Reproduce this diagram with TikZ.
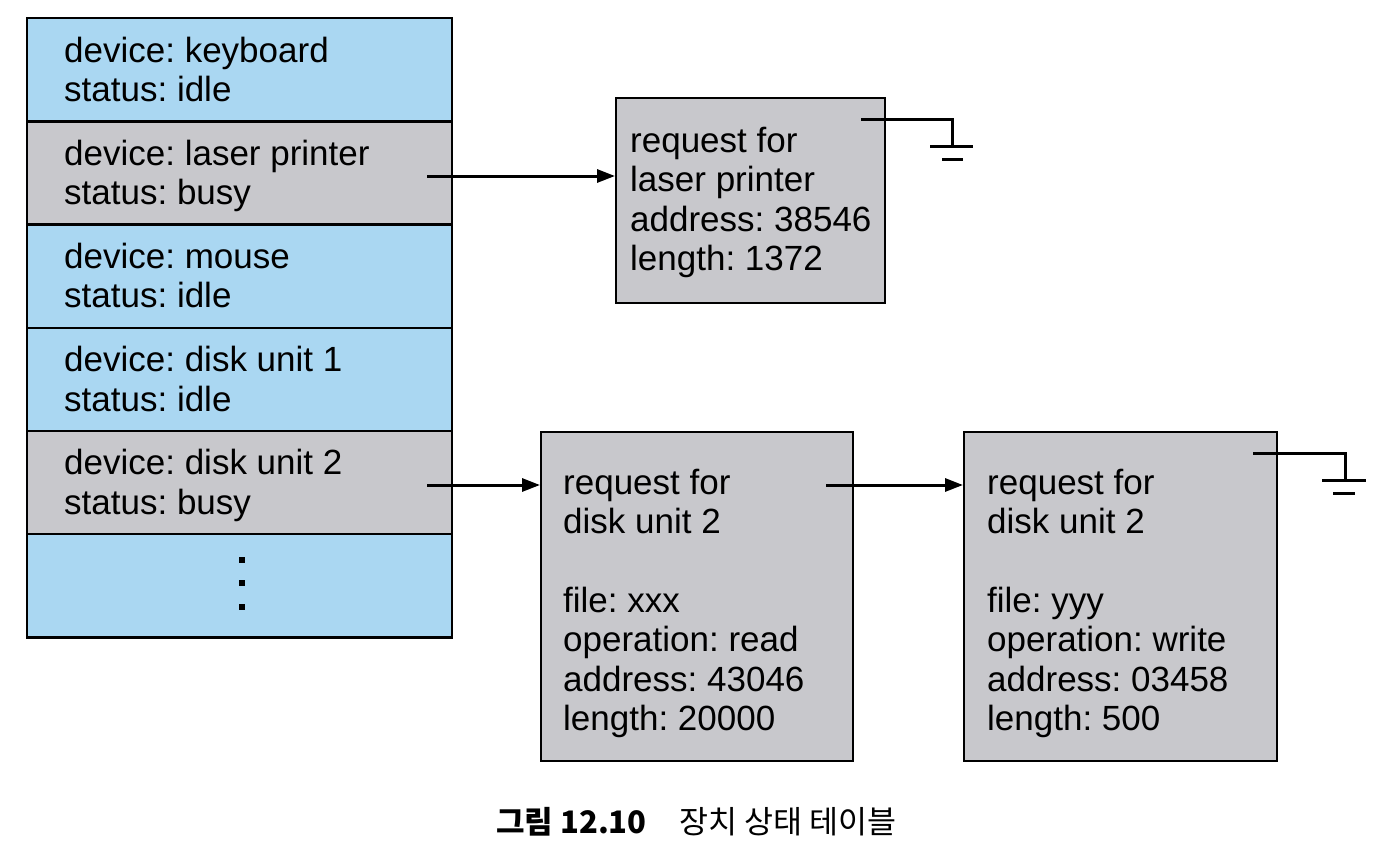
\documentclass[tikz,border=0pt]{standalone}
\usepackage{fontspec}
\setmainfont{Liberation Sans}
\newfontfamily\cjk{Noto Sans CJK KR}
\usetikzlibrary{arrows.meta}
\definecolor{rowblue}{RGB}{170,215,242}
\definecolor{rowgray}{RGB}{200,200,204}
\frenchspacing
\begin{document}
\begin{tikzpicture}[x=1pt,y=-1pt,
  row/.style={draw=black,line width=2.4pt,minimum width=425pt,minimum height=103.2pt,inner sep=0pt,anchor=north west},
  req/.style={draw=black,line width=2.4pt,fill=rowgray,inner sep=0pt,anchor=north west},
  txt/.style={anchor=base west,inner sep=0pt,align=left,font=\fontsize{35}{39.5}\selectfont},
  conn/.style={line width=3pt,-{Triangle[length=18pt,width=13pt]}},
  gnd/.style={line width=3pt},
  dotsq/.style={fill=black,minimum size=6.5pt,inner sep=0pt},
  captxt/.style={anchor=base west,inner sep=0pt}]
\useasboundingbox[fill=white] (0,0) rectangle (1388,846);

% device table
\node[row,fill=rowblue] (r1) at (26,17) {};
\node[row,fill=rowgray] (r2) at (26,120.2) {};
\node[row,fill=rowblue] (r3) at (26,223.4) {};
\node[row,fill=rowblue] (r4) at (26,326.6) {};
\node[row,fill=rowgray] (r5) at (26,429.8) {};
\node[row,fill=rowblue] (r6) at (26,533) {};

% (base anchor = baseline of the last line)
\node[txt] (t1) at (64,101.5) {device: keyboard\\status: idle};
\node[txt] (t2) at (64,204.7) {device: laser printer\\status: busy};
\node[txt] (t3) at (64,307.9) {device: mouse\\status: idle};
\node[txt] (t4) at (64,411.1) {device: disk unit 1\\status: idle};
\node[txt] (t5) at (64,514.3) {device: disk unit 2\\status: busy};

\node[dotsq] (d1) at (242,560) {};
\node[dotsq] (d2) at (242,583) {};
\node[dotsq] (d3) at (242,607) {};

% request boxes
\node[req,minimum width=269pt,minimum height=205pt] (b1) at (615,97) {};
\node[txt] (b1t) at (630,270.5) {request for\\laser printer\\address: 38546\\length: 1372};

\node[req,minimum width=312pt,minimum height=329pt] (b2) at (540,431) {};
\node[txt] (b2t) at (563,533.5) {request for\\disk unit 2};
\node[txt] (b2u) at (563,730.5) {file: xxx\\operation: read\\address: 43046\\length: 20000};

\node[req,minimum width=313pt,minimum height=329pt] (b3) at (963,431) {};
\node[txt] (b3t) at (987,533.5) {request for\\disk unit 2};
\node[txt] (b3u) at (987,730.5) {file: yyy\\operation: write\\address: 03458\\length: 500};

% connectors
\coordinate (s1) at (427,176);
\draw[conn] (s1) -- (s1 -| b1.west);
\coordinate (s2) at (427,485);
\draw[conn] (s2) -- (s2 -| b2.west);
\coordinate (s3) at (826,485);
\draw[conn] (s3) -- (s3 -| b3.west);

% grounds
\coordinate (g1) at (861,119);
\draw[gnd] (g1) -| ++(91,27) coordinate (e1);
\draw[gnd] ([xshift=-22pt]e1) -- ++(43,0);
\draw[gnd] ([xshift=-10pt,yshift=-13pt]e1) -- ++(21,0);

\coordinate (g2) at (1253,453);
\draw[gnd] (g2) -| ++(92,27) coordinate (e2);
\draw[gnd] ([xshift=-23pt]e2) -- ++(44,0);
\draw[gnd] ([xshift=-12pt,yshift=-13pt]e2) -- ++(22,0);

% caption
\node[captxt,font=\cjk\bfseries\fontsize{31}{31}\selectfont] (c1) at (496,833) {그림 12.10};
\node[captxt,font=\cjk\fontsize{31.5}{31.5}\selectfont] (c2) at (679,833) {장치 상태 테이블};
\end{tikzpicture}
\end{document}
